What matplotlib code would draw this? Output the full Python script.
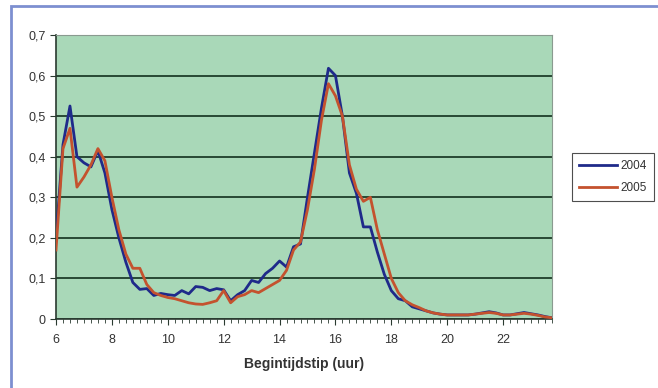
import numpy as np
import matplotlib
matplotlib.use("Agg")
import matplotlib.pyplot as plt
from matplotlib.patches import Rectangle
from matplotlib.ticker import FuncFormatter, MultipleLocator

plt.rcParams["font.family"] = ["Liberation Sans", "DejaVu Sans"]

# kwartierwaarden 6:00 .. 23:45
uren = 6 + np.arange(72) * 0.25

v2004 = [0.20, 0.43, 0.525, 0.40, 0.385, 0.375, 0.415, 0.36,
         0.27, 0.20, 0.14, 0.09, 0.073, 0.075, 0.058, 0.063,
         0.060, 0.058, 0.070, 0.062, 0.080, 0.078, 0.070, 0.075,
         0.072, 0.045, 0.060, 0.070, 0.095, 0.090, 0.112, 0.125,
         0.143, 0.128, 0.178, 0.185, 0.30, 0.41, 0.52, 0.618,
         0.60, 0.50, 0.36, 0.31, 0.227, 0.227, 0.165, 0.11,
         0.07, 0.05, 0.045, 0.03, 0.025, 0.02, 0.015, 0.012,
         0.010, 0.010, 0.010, 0.010, 0.012, 0.015, 0.018, 0.015,
         0.010, 0.010, 0.013, 0.016, 0.013, 0.010, 0.006, 0.003]

v2005 = [0.17, 0.42, 0.47, 0.325, 0.35, 0.38, 0.42, 0.39,
         0.30, 0.22, 0.16, 0.125, 0.125, 0.085, 0.065, 0.058,
         0.053, 0.050, 0.045, 0.040, 0.037, 0.036, 0.040, 0.045,
         0.070, 0.040, 0.055, 0.060, 0.070, 0.065, 0.075, 0.085,
         0.095, 0.12, 0.17, 0.19, 0.27, 0.37, 0.49, 0.58,
         0.55, 0.50, 0.38, 0.32, 0.29, 0.30, 0.22, 0.16,
         0.10, 0.065, 0.045, 0.035, 0.028, 0.02, 0.015, 0.012,
         0.010, 0.010, 0.010, 0.010, 0.012, 0.014, 0.016, 0.014,
         0.010, 0.010, 0.012, 0.014, 0.012, 0.009, 0.005, 0.003]

xticks = [6, 8, 10, 12, 14, 16, 18, 20, 22]
yticks = [0, 0.1, 0.2, 0.3, 0.4, 0.5, 0.6, 0.7]

tekst = "#333333"

fig = plt.figure(figsize=(6.58, 3.88), dpi=100)
# kader rond de grafiek (onder- en rechterrand vallen buiten beeld)
fig.patches.append(Rectangle((11 / 658, -10 / 388), 700 / 658, 392 / 388,
                             transform=fig.transFigure, fill=False,
                             edgecolor="#7d8fd0", lw=2))

ax = fig.add_axes([56 / 658, 69 / 388, 496 / 658, 284 / 388])
ax.set_facecolor("#a9d8b8")

ax.plot(uren, v2004, color="#1f2a8a", lw=2, label="2004", zorder=3)
ax.plot(uren, v2005, color="#c4522e", lw=2, label="2005", zorder=3)

ax.set_xlim(6, 23.75)
ax.set_ylim(0, 0.7)
ax.set_xticks(xticks)
ax.set_yticks(yticks)
ax.xaxis.set_minor_locator(MultipleLocator(0.25))
ax.yaxis.set_major_formatter(FuncFormatter(
    lambda v, p: "0" if v == 0 else f"{v:.1f}".replace(".", ",")))
ax.grid(axis="y", color="#1e3d2a", lw=1.3)
ax.set_axisbelow(True)

for s in ["top", "right"]:
    ax.spines[s].set_color("#8a9a90")
    ax.spines[s].set_linewidth(0.8)
for s in ["left", "bottom"]:
    ax.spines[s].set_color("#2a3a30")
    ax.spines[s].set_linewidth(1.2)

ax.tick_params(axis="both", which="major", length=4, color="#2a3a30",
               labelsize=9, labelcolor=tekst)
ax.tick_params(axis="x", which="minor", length=3, color="#2a3a30")
ax.tick_params(axis="x", which="major", pad=7)

ax.set_xlabel("Begintijdstip (uur)", fontsize=10, fontweight="bold",
              color=tekst, labelpad=8)

leg = ax.legend(loc="center left", bbox_to_anchor=(1.04, 0.5),
                fontsize=8.5, frameon=True, fancybox=False,
                handlelength=3.2, borderpad=0.6, labelspacing=0.9,
                handletextpad=0.3, borderaxespad=0)
leg.get_frame().set_edgecolor("#222222")
leg.get_frame().set_linewidth(0.8)
for t in leg.get_texts():
    t.set_color(tekst)

fig.savefig("out.png", dpi=100)
